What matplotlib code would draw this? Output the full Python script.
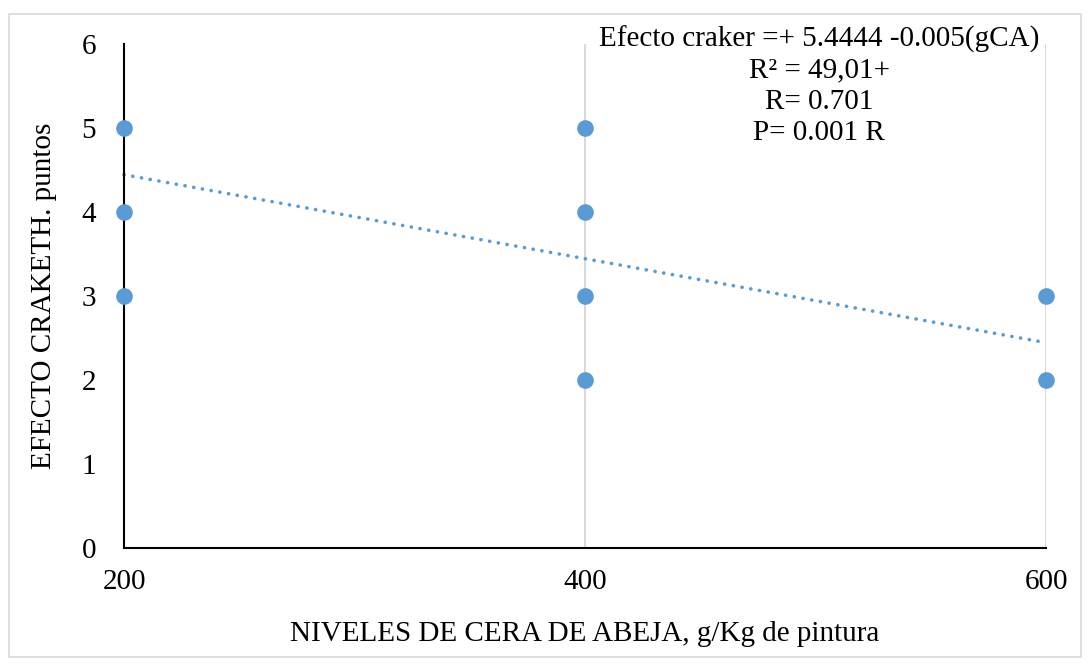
import matplotlib
matplotlib.use("Agg")
import matplotlib.pyplot as plt
import numpy as np
from matplotlib.patches import Rectangle

plt.rcParams['font.family'] = ['Liberation Serif', 'DejaVu Serif']

x_vals = [200, 200, 200, 400, 400, 400, 400, 600, 600]
y_vals = [5, 4, 3, 5, 4, 3, 2, 3, 2]
intercept = 5.4444
slope = -0.005
x_ticks = [200, 400, 600]
y_ticks = [0, 1, 2, 3, 4, 5, 6]
annot_lines = ["Efecto craker =+ 5.4444 -0.005(gCA)", "R² = 49,01+", "R= 0.701", "P= 0.001 R"]

blue = '#5B9BD5'

fig = plt.figure(figsize=(10.89, 6.66), dpi=100)
fig.patches.append(Rectangle((9/1089, 1 - 657/666), 1072/1089, 643/666, transform=fig.transFigure,
                             fill=False, edgecolor='#D9D9D9', linewidth=1.2))
ax = fig.add_axes([124/1089, 1 - 548/666, 922/1089, 504/666])

ax.set_xlim(200, 600)
ax.set_ylim(0, 6)

for xv in [400, 600]:
    ax.axvline(xv, color='#D9D9D9', linewidth=1.5, zorder=1)

xl = np.array([200, 600])
ax.plot(xl, intercept + slope * xl, color=blue, linewidth=2.6, linestyle=(0, (0.05, 2.4)),
        dash_capstyle='round', zorder=2, clip_on=False)

ax.plot(x_vals, y_vals, 'o', color=blue, markersize=12, markeredgewidth=0, zorder=3, clip_on=False)

for s in ['top', 'right']:
    ax.spines[s].set_visible(False)
ax.spines['left'].set_linewidth(1.5)
ax.spines['bottom'].set_linewidth(1.5)

ax.set_xticks(x_ticks)
ax.set_yticks(y_ticks)
ax.tick_params(axis='both', length=0, labelsize=21)
ax.tick_params(axis='x', pad=15)
ax.tick_params(axis='y', pad=20)

ax.set_xlabel("NIVELES DE CERA DE ABEJA, g/Kg de pintura", fontsize=21, labelpad=19)
ax.set_ylabel("EFECTO CRAKETH. puntos", fontsize=21, labelpad=18)

ax.text(0.754, 1.037, "\n".join(annot_lines), transform=ax.transAxes, ha='center', va='top',
        fontsize=21, linespacing=1.26)

fig.savefig("out.png", dpi=100)
